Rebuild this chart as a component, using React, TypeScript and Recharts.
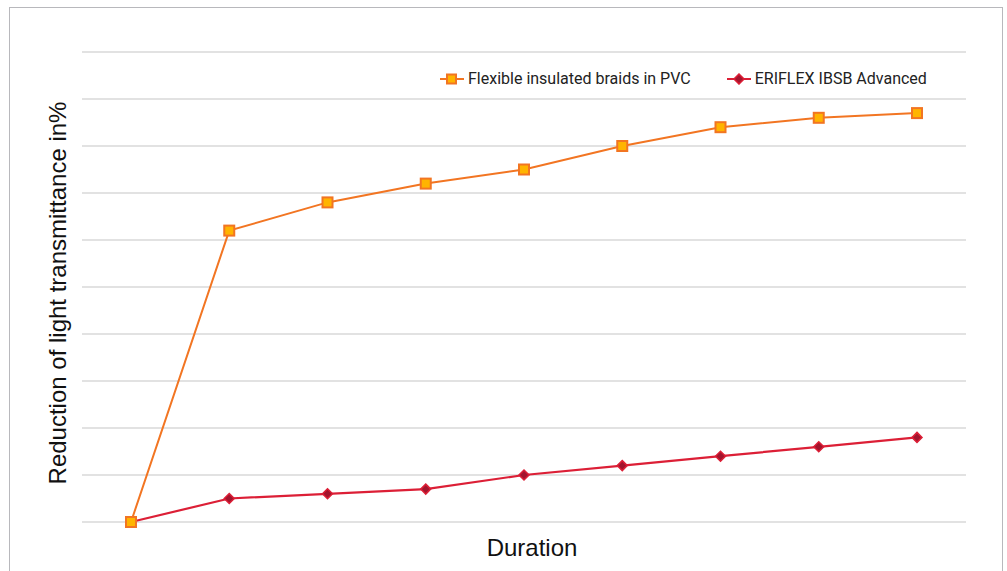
import React from "react";
import { LineChart, Line, XAxis, YAxis, CartesianGrid } from "recharts";

// durations are not labelled in the source, so steps are used
const durations = ["0", "1", "2", "3", "4", "5", "6", "7", "8"];
const pvcBraids = [0, 62, 68, 72, 75, 80, 84, 86, 87];
const ibsbAdvanced = [0, 5, 6, 7, 10, 12, 14, 16, 18];
const yTicks = [0, 10, 20, 30, 40, 50, 60, 70, 80, 90, 100];

const data = durations.map((d, i) => ({
  duration: d,
  pvc: pvcBraids[i],
  ibsb: ibsbAdvanced[i],
}));

const ORANGE = "#f27522";
const ORANGE_FILL = "#ffb400";
const RED = "#dc1f36";
const RED_FILL = "#a3142d";

function SquareDot(props: any) {
  const { cx, cy } = props;
  if (cx == null || cy == null) return null;
  return (
    <rect
      x={cx - 5}
      y={cy - 5}
      width={10}
      height={10}
      fill={ORANGE_FILL}
      stroke={ORANGE}
      strokeWidth={2}
    />
  );
}

function DiamondDot(props: any) {
  const { cx, cy } = props;
  if (cx == null || cy == null) return null;
  return (
    <polygon
      points={`${cx},${cy - 5} ${cx + 5},${cy} ${cx},${cy + 5} ${cx - 5},${cy}`}
      fill={RED_FILL}
      stroke={RED}
      strokeWidth={1.5}
    />
  );
}

function LegendItem({ label, kind }: { label: string; kind: "square" | "diamond" }) {
  const color = kind === "square" ? ORANGE : RED;
  return (
    <div style={{ display: "flex", alignItems: "center", gap: 4 }}>
      <svg width={24} height={12}>
        <line x1={0} y1={6} x2={24} y2={6} stroke={color} strokeWidth={2} />
        {kind === "square" ? (
          <rect x={7} y={1.5} width={9} height={9} fill={ORANGE_FILL} stroke={ORANGE} strokeWidth={2} />
        ) : (
          <polygon points="12,1 17,6 12,11 7,6" fill={RED_FILL} stroke={RED} strokeWidth={1.5} />
        )}
      </svg>
      <span>{label}</span>
    </div>
  );
}

export default function App() {
  return (
    <div
      style={{
        position: "fixed",
        left: 0,
        top: 0,
        width: 1007,
        height: 571,
        background: "#fff",
        overflow: "hidden",
      }}
    >
      <div
        style={{
          position: "absolute",
          left: 9,
          top: 7,
          width: 994,
          height: 600,
          border: "1.5px solid #b8b8bc",
          boxSizing: "border-box",
        }}
      />
      <LineChart
        width={1007}
        height={571}
        data={data}
        margin={{ top: 52, right: 41, bottom: 49, left: 82 }}
        style={{ position: "absolute", left: 0, top: 0 }}
      >
        <CartesianGrid vertical={false} stroke="#c6c6c6" strokeWidth={1.2} />
        <XAxis dataKey="duration" hide padding={{ left: 49, right: 49 }} />
        <YAxis domain={[0, 100]} ticks={yTicks} hide />
        {/* red first so the orange squares sit on top where they meet */}
        <Line
          dataKey="ibsb"
          stroke={RED}
          strokeWidth={2.2}
          dot={<DiamondDot />}
          activeDot={false}
          isAnimationActive={false}
        />
        <Line
          dataKey="pvc"
          stroke={ORANGE}
          strokeWidth={2}
          dot={<SquareDot />}
          activeDot={false}
          isAnimationActive={false}
        />
      </LineChart>
      <div
        style={{
          position: "absolute",
          left: 440,
          top: 69,
          display: "flex",
          gap: 36,
          fontFamily: "Roboto, sans-serif",
          fontSize: 16,
          color: "#222",
        }}
      >
        <LegendItem label="Flexible insulated braids in PVC" kind="square" />
        <LegendItem label="ERIFLEX IBSB Advanced" kind="diamond" />
      </div>
      <div
        style={{
          position: "absolute",
          left: 58,
          top: 293,
          transform: "translate(-50%, -50%) rotate(-90deg)",
          whiteSpace: "nowrap",
          fontFamily: "'Liberation Sans', Arial, sans-serif",
          fontSize: 24,
          color: "#111",
        }}
      >
        Reduction of light transmittance in%
      </div>
      <div
        style={{
          position: "absolute",
          left: 532,
          top: 548,
          transform: "translate(-50%, -50%)",
          whiteSpace: "nowrap",
          fontFamily: "'Liberation Sans', Arial, sans-serif",
          fontSize: 24,
          color: "#111",
        }}
      >
        Duration
      </div>
    </div>
  );
}
